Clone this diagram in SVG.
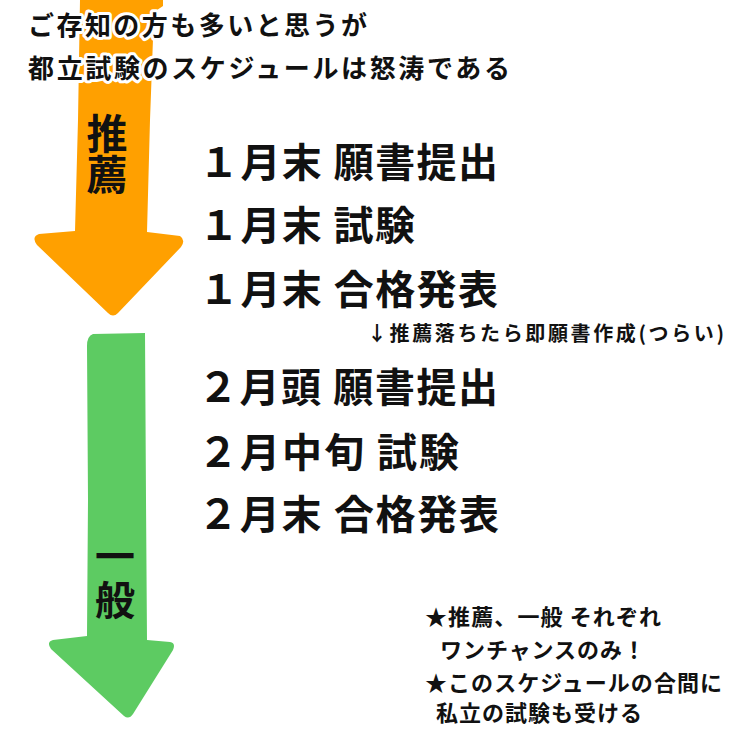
<svg xmlns="http://www.w3.org/2000/svg" width="750" height="750" viewBox="0 0 750 750">
<style>
text{font-family:"Noto Sans CJK JP","Noto Sans",sans-serif;font-weight:700;fill:#111}
.title{font-size:26px;stroke:#fff;stroke-width:6;stroke-linejoin:round;paint-order:stroke}
.row{font-size:40px}
.note{font-size:20px}
.memo{font-size:22px}
.vert{writing-mode:vertical-rl;text-orientation:upright}
</style>
<rect width="750" height="750" fill="#fff"/>
<g id="arrow-suisen">
<path fill="#FFA000" d="M80 0 L163 0 L163 6 L154 12 L150 120 L147 232 L180 236 Q186 240 181 247 L118 313 Q113 318 108 313 L37 245 Q31 237 39 234 L75 231 L78 120 Z"/>
<text class="vert" x="107" y="113" font-size="41">推薦</text>
</g>
<g id="arrow-ippan">
<path fill="#5DCB62" d="M93 334 Q87 336 87 346 L88 500 L87 636 L53 640 Q46 642 51 649 L124 716 Q129 720 133 714 L173 650 Q176 643 170 642 L147 640 L146 500 L145 333 Z"/>
<text class="vert" x="115" y="536" font-size="40" letter-spacing="4">一般</text>
</g>
<g id="title">
<text class="title" x="28" y="35" textLength="339" lengthAdjust="spacing">ご存知の方も多いと思うが</text>
<text class="title" x="28" y="78" textLength="482" lengthAdjust="spacing">都立試験のスケジュールは怒涛である</text>
</g>
<g id="suisen-schedule">
<text class="row" x="199" y="177" textLength="299" lengthAdjust="spacing">１月末 願書提出</text>
<text class="row" x="199" y="240" textLength="216" lengthAdjust="spacing">１月末 試験</text>
<text class="row" x="199" y="304" textLength="299" lengthAdjust="spacing">１月末 合格発表</text>
</g>
<g id="note">
<text class="note" x="367" y="341" textLength="357" lengthAdjust="spacing">↓推薦落ちたら即願書作成(つらい)</text>
</g>
<g id="ippan-schedule">
<text class="row" x="198" y="402" textLength="300" lengthAdjust="spacing">２月頭 願書提出</text>
<text class="row" x="198" y="467" textLength="261" lengthAdjust="spacing">２月中旬 試験</text>
<text class="row" x="198" y="529" textLength="301" lengthAdjust="spacing">２月末 合格発表</text>
</g>
<g id="memo">
<text class="memo" x="425" y="625" textLength="236" lengthAdjust="spacing">★推薦、一般 それぞれ</text>
<text class="memo" x="440" y="658" textLength="205" lengthAdjust="spacing">ワンチャンスのみ！</text>
<text class="memo" x="425" y="691" textLength="297" lengthAdjust="spacing">★このスケジュールの合間に</text>
<text class="memo" x="436" y="721" textLength="206" lengthAdjust="spacing">私立の試験も受ける</text>
</g>
</svg>
